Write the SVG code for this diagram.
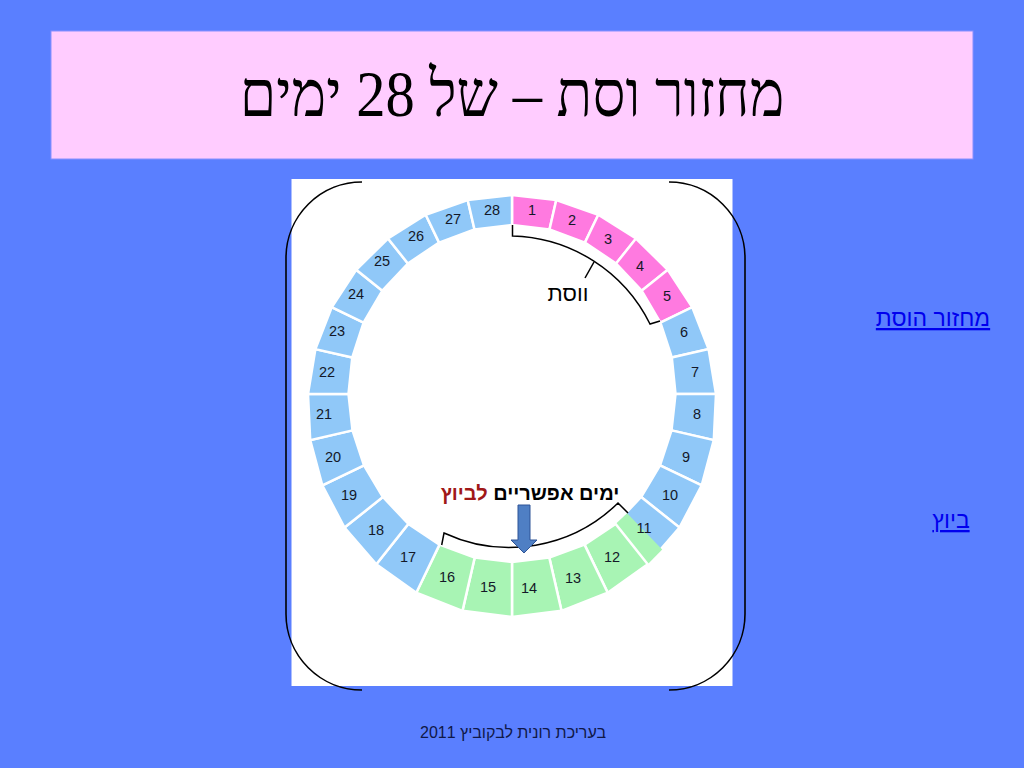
<svg xmlns="http://www.w3.org/2000/svg" width="1024" height="768" viewBox="0 0 1024 768">
<style>
.seg{stroke:#ffffff;stroke-width:2.5;stroke-linejoin:miter}
.pink{fill:#ff7ae0}
.blue{fill:#90c8f8}
.green{fill:#a8f4b4}
.num{font-family:"Liberation Sans","DejaVu Sans",Arial,sans-serif;font-size:14.5px;fill:#141828;text-anchor:middle}
.br{fill:none;stroke:#000;stroke-width:1.5}
.frame{fill:none;stroke:#000;stroke-width:1.6}
.link{font-family:"Liberation Sans","DejaVu Sans",Arial,sans-serif;font-size:23px;fill:#0000ee;text-decoration:underline;text-anchor:middle}
</style>
<rect x="0" y="0" width="1024" height="768" fill="#5a7fff"/>
<g id="title">
<rect x="51" y="31" width="922" height="128" fill="#ffccff" stroke="#8890ff" stroke-width="1"/>
<text transform="translate(512 116) scale(0.9 1)" x="0" y="0" direction="rtl" text-anchor="middle" font-family="'Liberation Serif','DejaVu Serif',serif" font-size="65" fill="#000">מחזור וסת – של 28 ימים</text>
</g>
<g id="panel">
<rect x="291.5" y="179" width="441" height="507" fill="#ffffff"/>
<path class="frame" d="M 362 182 A 76 76 0 0 0 286 258 L 286 614 A 76 76 0 0 0 362 690"/>
<path class="frame" d="M 669 182 A 76 76 0 0 1 745 258 L 745 614 A 76 76 0 0 1 669 690"/>
</g>
<g id="ring">
<polygon id="d1" class="seg pink" points="512,195 556.3,200 549.5,229.5 512,225"/>
<polygon id="d2" class="seg pink" points="556.3,200 598.3,214.8 584.9,242.6 549.5,229.5"/>
<polygon id="d3" class="seg pink" points="598.3,214.8 636,238.5 616.1,263.5 584.9,242.6"/>
<polygon id="d4" class="seg pink" points="636,238.5 667.8,269.8 641.6,290.7 616.1,263.5"/>
<polygon id="d5" class="seg pink" points="667.8,269.8 692.3,307.2 660.4,322.6 641.6,290.7"/>
<polygon id="d6" class="seg blue" points="692.3,307.2 708.6,349.1 671.8,357.5 660.4,322.6"/>
<polygon id="d7" class="seg blue" points="708.6,349.1 716,394 675.5,394 671.8,357.5"/>
<polygon id="d8" class="seg blue" points="716,394 713.8,440.1 671.5,430.4 675.5,394"/>
<polygon id="d9" class="seg blue" points="713.8,440.1 701.7,485.4 660,465.3 671.5,430.4"/>
<polygon id="d10" class="seg blue" points="701.7,485.4 679.5,527.6 641.1,497 660,465.3"/>
<polygon id="d11" class="seg blue" points="679.5,527.6 647.7,564.2 615.6,523.9 641.1,497"/>
<polygon id="d11g" class="green" points="662.2,549.6 647.7,564.2 615.6,523.9 627.1,513.2" stroke="none"/>
<polygon id="d12" class="seg green" points="647.7,564.2 607.7,592.7 584.5,544.6 615.6,523.9"/>
<polygon id="d13" class="seg green" points="607.7,592.7 561.5,610.8 549.3,557.6 584.5,544.6"/>
<polygon id="d14" class="seg green" points="561.5,610.8 512,617 512,562 549.3,557.6"/>
<polygon id="d15" class="seg green" points="512,617 462.5,610.8 474.7,557.6 512,562"/>
<polygon id="d16" class="seg green" points="462.5,610.8 416.3,592.7 439.5,544.6 474.7,557.6"/>
<polygon id="d17" class="seg blue" points="416.3,592.7 376.3,564.2 408.4,523.9 439.5,544.6"/>
<polygon id="d18" class="seg blue" points="376.3,564.2 344.5,527.6 382.9,497 408.4,523.9"/>
<polygon id="d19" class="seg blue" points="344.5,527.6 322.3,485.4 364,465.3 382.9,497"/>
<polygon id="d20" class="seg blue" points="322.3,485.4 310.2,440.1 352.5,430.4 364,465.3"/>
<polygon id="d21" class="seg blue" points="310.2,440.1 308,394 348.5,394 352.5,430.4"/>
<polygon id="d22" class="seg blue" points="308,394 315.4,349.1 352.3,357.5 348.5,394"/>
<polygon id="d23" class="seg blue" points="315.4,349.1 331.7,307.2 363.6,322.6 352.3,357.5"/>
<polygon id="d24" class="seg blue" points="331.7,307.2 356.2,269.8 382.4,290.7 363.6,322.6"/>
<polygon id="d25" class="seg blue" points="356.2,269.8 388,238.5 407.9,263.5 382.4,290.7"/>
<polygon id="d26" class="seg blue" points="388,238.5 425.7,214.8 439.1,242.6 407.9,263.5"/>
<polygon id="d27" class="seg blue" points="425.7,214.8 467.7,200 474.5,229.5 439.1,242.6"/>
<polygon id="d28" class="seg blue" points="467.7,200 512,195 512,225 474.5,229.5"/>
</g>
<g id="numbers">
<text class="num" x="532" y="215">1</text>
<text class="num" x="572" y="225">2</text>
<text class="num" x="608" y="244">3</text>
<text class="num" x="640" y="271">4</text>
<text class="num" x="667" y="301">5</text>
<text class="num" x="684" y="337">6</text>
<text class="num" x="695" y="377">7</text>
<text class="num" x="697" y="419">8</text>
<text class="num" x="686" y="462">9</text>
<text class="num" x="670" y="500">10</text>
<text class="num" x="644" y="533">11</text>
<text class="num" x="612" y="562">12</text>
<text class="num" x="573" y="583">13</text>
<text class="num" x="529" y="593">14</text>
<text class="num" x="488" y="592">15</text>
<text class="num" x="447" y="582">16</text>
<text class="num" x="408" y="562">17</text>
<text class="num" x="376" y="535">18</text>
<text class="num" x="349" y="500">19</text>
<text class="num" x="333" y="462">20</text>
<text class="num" x="324" y="419">21</text>
<text class="num" x="327" y="377">22</text>
<text class="num" x="337" y="336">23</text>
<text class="num" x="356" y="299">24</text>
<text class="num" x="382" y="266">25</text>
<text class="num" x="416" y="241">26</text>
<text class="num" x="453" y="224">27</text>
<text class="num" x="492" y="215">28</text>
</g>
<g id="connectors">
<path class="br" d="M 512.5 225 L 512.5 236 A 158 158 0 0 1 650 324 L 660 321"/>
<path class="br" d="M 594 262 L 585 278"/>
<path class="br" d="M 441.7 545 L 444 533 A 155 155 0 0 0 618 503 L 628 513"/>
<polygon id="arrow" points="518,505 530,505 530,540 537,540 524,553 511,540 518,540" fill="#4f7fc4" stroke="#2f5597" stroke-width="1"/>
</g>
<g id="labels">
<text x="568" y="301" text-anchor="middle" direction="rtl" font-family="'Liberation Sans','DejaVu Sans',Arial,sans-serif" font-size="22" fill="#000">ווסת</text>
<text x="530" y="500" text-anchor="middle" direction="rtl" font-family="'Liberation Sans','DejaVu Sans',Arial,sans-serif" font-size="20" font-weight="bold" fill="#000">ימים אפשריים <tspan fill="#a01818">לביוץ</tspan></text>
</g>
<g id="links">
<text class="link" x="933" y="326" direction="rtl">מחזור הוסת</text>
<text class="link" x="951" y="528" direction="rtl">ביוץ</text>
</g>
<g id="footer">
<text x="513" y="738" text-anchor="middle" direction="rtl" font-family="'Liberation Sans','DejaVu Sans',Arial,sans-serif" font-size="16" fill="#101848">בעריכת רונית לבקוביץ 2011</text>
</g>
</svg>
